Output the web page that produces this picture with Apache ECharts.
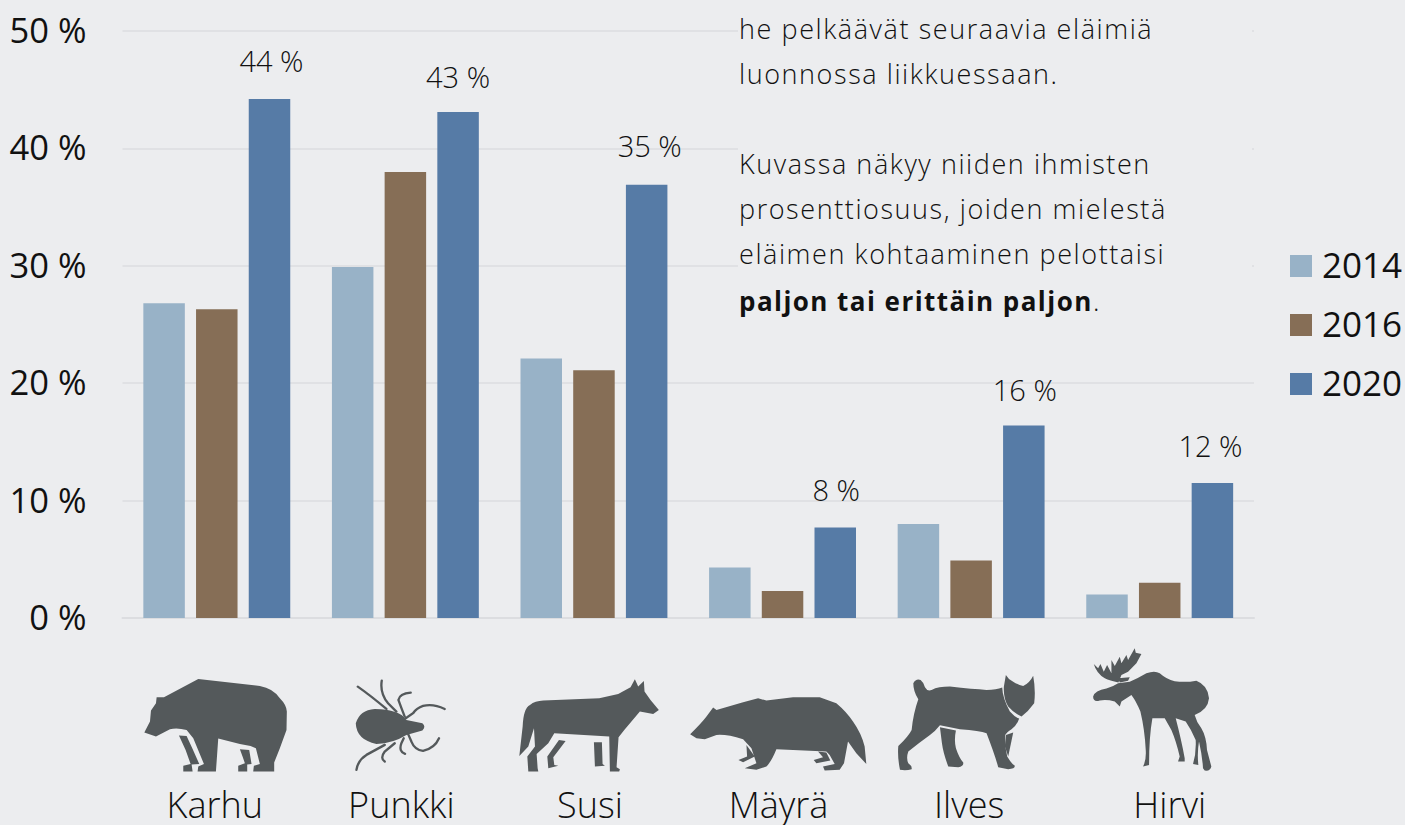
<!DOCTYPE html>
<html lang="fi">
<head>
    <meta charset="UTF-8">
    <title>Eläimet</title>
    <script src="https://cdn.jsdelivr.net/npm/echarts@6/dist/echarts.min.js"></script>
    <style>
        html, body { margin: 0; padding: 0; background: #ecedef; overflow: hidden; }
        #chart { width: 1405px; height: 825px; }
        /* tekstikappaleen harvennus, svg-renderöijä */
        svg text[style*="27px"] { letter-spacing: 1.57px; }
        svg text[style*="26px"] { letter-spacing: 1.45px; }
    </style>
</head>
<body>
<div id="chart"></div>
<script type="text/javascript">
    var categories = ['Karhu', 'Punkki', 'Susi', 'Mäyrä', 'Ilves', 'Hirvi'];
    var years = ['2014', '2016', '2020'];
    var values2014 = [26.8, 29.9, 22.1, 4.3, 8.0, 2.0];
    var values2016 = [26.3, 38.0, 21.1, 2.3, 4.9, 3.0];
    var values2020 = [44.2, 43.1, 36.9, 7.7, 16.4, 11.5];
    // 2020-pylväiden yläpuolella olevat tekstit, kuvasta luettuna
    var labels2020 = ['44 %', '43 %', '35 %', '8 %', '16 %', '12 %'];
    var paragraph = [
        'he pelkäävät seuraavia eläimiä',
        'luonnossa liikkuessaan.',
        '',
        'Kuvassa näkyy niiden ihmisten',
        'prosenttiosuus, joiden mielestä',
        'eläimen kohtaaminen pelottaisi'
    ];
    var paragraphBold = 'paljon tai erittäin paljon';

    var FONT = '"Open Sans", sans-serif';
    var ANIMAL = '#54595b';
    // nimien pieni siirto sarakkeen keskeltä
    var nameShift = [-2, -4, -4, -4, -2, 10];
    // arvotekstien siirto pylvään päältä
    var labelNudge = [[2, -4], [0, -1], [3, -5], [1, -4], [1, -1], [-2, -3]];

    // eläinten siluetit, koordinaatit 3x-rajauksista
    var shapes = [
        // karhu
        {x: 130, y: 640, d: 'M43,278 L60,245 L63,212 L78,190 L80,172 L102,172 L205,117 L390,138 Q430,145 450,175 Q470,195 471,215 L470,270 L450,325 L433,368 L433,395 L370,395 L372,378 L390,372 L378,325 L362,318 L330,312 L265,296 L258,395 L203,395 L205,380 L222,372 L190,295 L170,270 Q140,262 120,268 L78,290 Z'},
        {x: 130, y: 640, d: 'M147,287 L170,288 L187,325 L208,372 L185,374 L188,395 L160,395 L160,378 L182,372 L167,330 Z'},
        {x: 130, y: 640, d: 'M330,328 L358,330 L365,372 L352,374 L352,395 L325,395 L325,378 L345,370 L338,350 Z'},
        // punkki
        {x: 130, y: 640, d: 'M735,207 Q690,210 678,250 Q680,300 740,312 Q790,310 830,285 L878,272 Q890,260 878,250 L830,240 Q810,208 735,207 Z'},
        {x: 130, y: 640, line: true, d: 'M684,140 Q720,165 770,207 M756,122 Q750,160 775,190 L800,215 M843,158 Q810,160 806,180 Q815,205 825,230 M945,207 Q910,190 880,198 Q860,205 850,220 L828,235 M928,295 Q915,325 880,333 Q855,330 845,305 L835,282 M826,342 Q806,335 815,310 L822,295 M765,365 Q750,355 765,335 L795,310 M680,390 Q685,360 710,345 L765,315'},
        // susi
        {x: 510, y: 640, d: 'M28,348 L38,260 Q40,205 60,195 Q75,183 100,182 L268,175 L325,162 L362,142 L375,118 L385,140 L402,123 L404,155 L422,180 L447,210 L430,222 L390,215 L345,268 L326,292 L320,382 L330,388 L328,395 L300,395 L298,290 L133,280 L115,310 L80,342 L83,385 L85,395 L55,395 L52,350 L75,320 L72,265 L55,320 Z'},
        {x: 510, y: 640, d: 'M252,307 L276,307 L278,372 L285,378 L255,380 Z'},
        {x: 510, y: 640, d: 'M147,300 L167,303 L130,352 L133,375 L145,378 L115,385 L112,350 Z'},
        // mäyrä
        {x: 510, y: 640, d: 'M541,283 Q575,250 590,230 L610,203 L620,210 L700,187 L745,175 L770,182 L850,172 L930,172 L980,190 Q1010,215 1030,245 Q1055,280 1065,320 L1070,372 L1040,340 L1015,305 L1003,370 L990,390 L945,392 L940,380 L975,372 L960,345 L950,335 L800,328 Q785,365 770,380 L740,390 L705,385 L740,370 L725,325 L700,298 Q650,282 620,285 L585,298 L560,295 Z'},
        {x: 510, y: 640, d: 'M710,315 L735,350 L700,367 L686,360 L712,350 Z'},
        {x: 510, y: 640, d: 'M925,335 L950,338 L962,362 L920,370 L912,360 L940,352 Z'},
        // ilves
        {x: 880, y: 640, d: 'M100,130 Q108,115 122,120 Q132,128 135,142 Q142,155 155,150 Q175,140 210,140 Q280,148 320,150 Q350,150 367,143 Q368,175 390,215 Q405,232 418,236 Q412,255 395,268 Q380,278 376,285 Q374,320 382,350 Q395,372 405,378 Q405,388 385,388 L355,382 Q345,345 320,280 Q300,272 240,268 L180,256 Q165,275 150,285 Q115,310 85,335 Q78,355 85,370 Q97,378 95,388 Q80,393 60,390 Q52,350 55,318 Q85,290 95,270 Q100,220 115,178 Q100,155 100,130 Z'},
        {x: 880, y: 640, d: 'M378,105 Q385,118 400,125 Q415,135 430,138 Q450,128 460,107 Q468,150 463,190 Q445,215 425,230 Q400,218 385,200 Q370,175 372,140 Z'},
        {x: 880, y: 640, d: 'M180,262 L228,272 Q222,300 228,325 Q238,355 250,368 Q252,380 235,382 L205,380 Q190,340 186,310 Z'},
        {x: 880, y: 640, d: 'M378,285 L400,278 L385,350 L375,320 Z'},
        // hirvi
        {x: 880, y: 640, d: 'M640,170 Q645,152 680,146 Q700,140 715,130 L750,125 Q775,115 800,100 Q825,90 840,100 Q860,118 885,124 Q920,128 950,122 Q985,135 988,175 Q985,210 945,225 Q950,245 965,265 Q980,290 982,330 L995,380 Q992,395 975,392 L970,385 Q968,350 958,305 Q952,340 956,375 L940,372 Q950,340 948,300 Q935,270 918,245 L888,235 Q905,300 915,355 L915,365 L895,365 L900,350 Q890,305 875,270 L855,235 L818,235 Q808,290 808,375 L790,380 Q800,360 798,330 Q795,270 782,215 Q770,185 755,165 L725,185 L720,200 L705,185 Q680,178 660,182 Q640,188 640,170 Z'},
        {x: 880, y: 640, d: 'M716,128 Q690,122 675,115 Q650,100 642,72 L655,85 L662,72 L672,95 L682,75 L695,100 L695,60 L705,78 L720,50 L725,70 L740,45 L745,60 L765,25 L768,38 L785,42 L770,70 L745,95 L725,105 Z M715,115 L750,112 L745,122 L720,128 Z'}
    ];

    var chart = echarts.init(document.getElementById('chart'), null, {renderer: 'svg'});

    // kuvien ja tekstikappaleen graafiset osat
    var graphics = [{
        type: 'rect', z: 1, silent: true,
        shape: {x: 738, y: 15, width: 514, height: 280},
        style: {fill: '#ecedef'}
    }];
    shapes.forEach(function (s, i) {
        // graphic-komponentilla ei ole path-tyyppiä, rekisteröidään jokainen muoto
        echarts.graphic.registerShape('animal' + i, echarts.graphic.extendPath(s.d, {}));
        graphics.push({
            type: 'animal' + i, z: 3, silent: true,
            x: s.x, y: s.y, scaleX: 1 / 3, scaleY: 1 / 3,
            style: s.line
                ? {fill: 'none', stroke: ANIMAL, lineWidth: 7, lineCap: 'round'}
                : {fill: ANIMAL}
        });
    });
    paragraph.forEach(function (line, i) {
        graphics.push({
            type: 'text', z: 3, silent: true, x: 739, y: 28.5 + i * 45,
            style: {text: line, fill: '#111', font: '300 27px ' + FONT, textVerticalAlign: 'middle'}
        });
    });
    graphics.push({
        type: 'text', z: 3, silent: true, x: 739, y: 300.5,
        style: {text: paragraphBold, fill: '#111', font: '700 26px ' + FONT, textVerticalAlign: 'middle'}
    });
    graphics.push({
        type: 'text', z: 3, silent: true, x: 1093, y: 300.5,
        style: {text: '.', fill: '#111', font: '300 27px ' + FONT, textVerticalAlign: 'middle'}
    });

    function barSeries(name, data, color) {
        return {
            name: name,
            type: 'bar',
            barWidth: 41.5,
            barGap: '27%',
            itemStyle: {color: color},
            data: data
        };
    }

    var s2020 = barSeries(years[2], values2020.map(function (v, i) {
        return {value: v, label: {offset: labelNudge[i], formatter: labels2020[i]}};
    }), '#567ba6');
    s2020.label = {
        show: true,
        position: 'top',
        distance: 20,
        fontFamily: FONT,
        fontWeight: 300,
        fontSize: 29,
        color: '#111'
    };

    var nameRich = {};
    categories.forEach(function (c, i) {
        var sh = nameShift[i];
        nameRich['n' + i] = {
            fontFamily: FONT, fontWeight: 300, fontSize: 36, color: '#111',
            padding: sh > 0 ? [0, 0, 0, sh * 2] : [0, -sh * 2, 0, 0]
        };
    });

    chart.setOption({
        backgroundColor: '#ecedef',
        animation: false,
        graphic: graphics,
        grid: {left: 122.5, right: 151, top: 31, bottom: 207},
        legend: {
            orient: 'vertical',
            left: 1290,
            top: 246.5,
            padding: 0,
            itemWidth: 22,
            itemHeight: 22,
            itemGap: 24,
            icon: 'rect',
            selectedMode: false,
            formatter: '{t|{name}}',
            textStyle: {
                rich: {
                    t: {fontFamily: FONT, fontSize: 35, color: '#111', padding: [0, 0, 4, 5]}
                }
            },
            data: years
        },
        xAxis: {
            type: 'category',
            data: categories,
            axisLine: {lineStyle: {color: '#dcdde0', width: 2}},
            axisTick: {show: false},
            axisLabel: {
                interval: 0,
                margin: 168,
                hideOverlap: false,
                formatter: function (v) {
                    return '{n' + categories.indexOf(v) + '|' + v + '}';
                },
                rich: nameRich
            }
        },
        yAxis: {
            type: 'value',
            min: 0,
            max: 50,
            interval: 10,
            axisLine: {show: false},
            axisTick: {show: false},
            splitLine: {lineStyle: {color: '#dcdde0', width: 1.5}},
            axisLabel: {
                margin: 36,
                formatter: function (v) {
                    return '{t|' + v + ' %}';
                },
                rich: {
                    t: {fontFamily: FONT, fontSize: 34.5, color: '#111', padding: [0, 0, 3, 0]}
                }
            }
        },
        series: [
            barSeries(years[0], values2014, '#98b2c7'),
            barSeries(years[1], values2016, '#866e56'),
            s2020
        ]
    });
</script>
</body>
</html>
